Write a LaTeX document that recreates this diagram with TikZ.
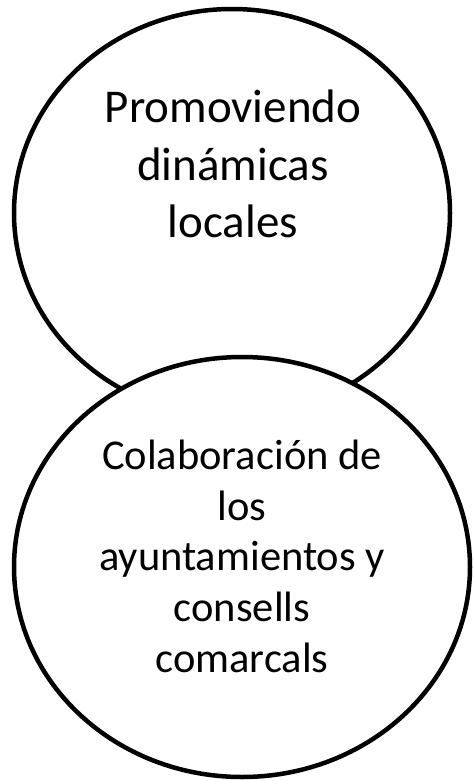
\documentclass[tikz,border=0pt]{standalone}
\usepackage{fontspec}
\setmainfont{Carlito}
\usetikzlibrary{shapes.geometric}
\begin{document}
\begin{tikzpicture}[x=1pt,y=1pt,
  bubble/.style={ellipse,draw=black,line width=4.5pt,fill=white,inner sep=0pt},
  toptext/.style={anchor=base,inner sep=0pt,font=\fontsize{47}{57}\selectfont},
  bottext/.style={anchor=base,inner sep=0pt,font=\fontsize{42.5}{51}\selectfont}]
\useasboundingbox (0,0) rectangle (472,-781);
\fill[white] (0,0) rectangle (472,-781);
\node[bubble,minimum width=436pt,minimum height=408pt] (top) at (232,-213) {};
\node[bubble,minimum width=456pt,minimum height=420pt] (bot) at (242,-567) {};
\node[toptext] (t1) at (233,-122.7) {Promoviendo};
\node[toptext] (t2) at (233,-180) {dinámicas};
\node[toptext] (t3) at (233,-237) {locales};
\node[bottext] (b1) at (242,-469) {Colaboración de};
\node[bottext] (b2) at (242,-520) {los};
\node[bottext] (b3) at (242,-570.5) {ayuntamientos y};
\node[bottext] (b4) at (242,-621.5) {consells};
\node[bottext] (b5) at (242,-672) {comarcals};
\end{tikzpicture}
\end{document}
